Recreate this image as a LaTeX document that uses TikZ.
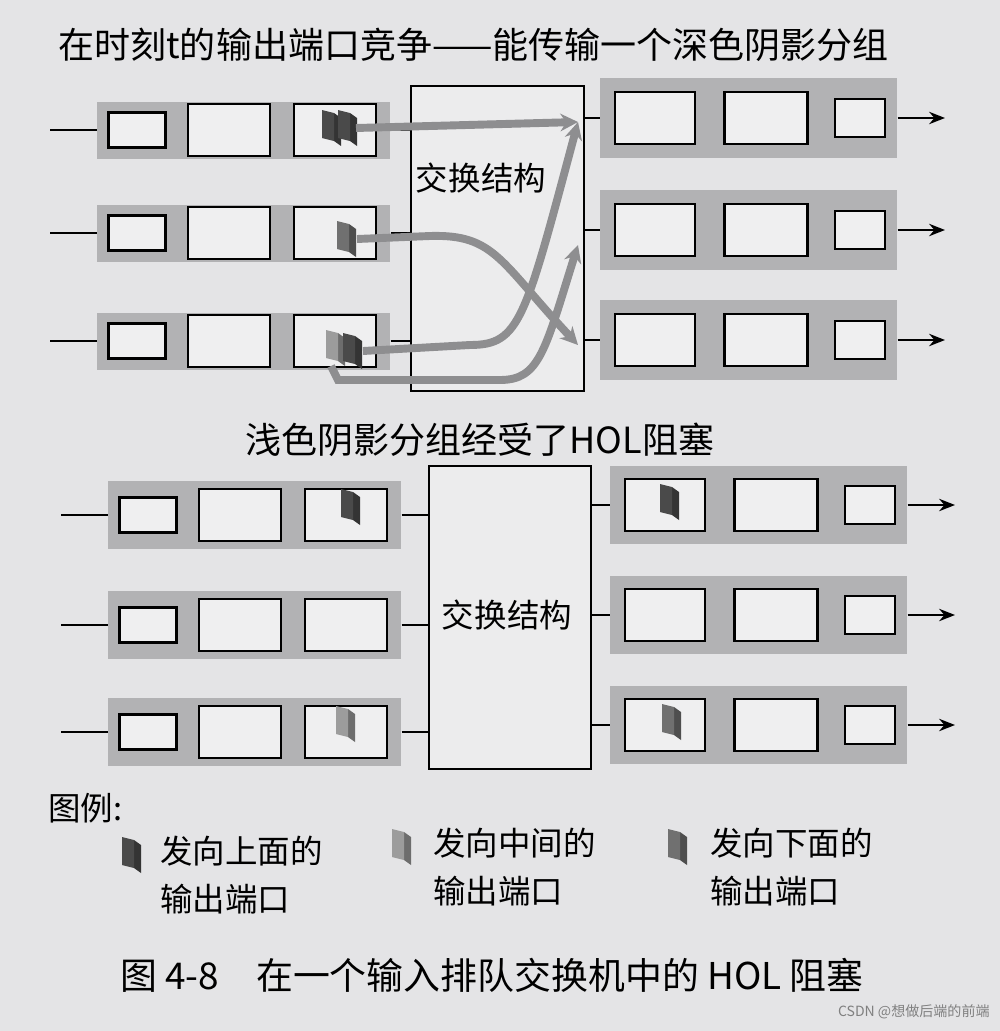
\documentclass[tikz,border=0pt]{standalone}
\usepackage{fontspec}
\newfontfamily\cjk{Noto Sans CJK SC}
\usetikzlibrary{arrows.meta}
\definecolor{paper}{HTML}{E4E4E6}
\definecolor{band}{HTML}{B2B2B4}
\definecolor{pdark}{HTML}{4A4A4A}
\definecolor{pmid}{HTML}{707070}
\definecolor{plight}{HTML}{9C9C9C}
\definecolor{flow}{HTML}{8E8E90}
\tikzset{
  bandbox/.style={fill=band,draw=none,minimum width=#1*0.02cm,inner sep=0pt},
  qbox/.style={draw=black,line width=1.2pt,fill=paper!60!white,inner sep=0pt},
  swbox/.style={draw=black,line width=1pt,fill=paper!70!white,inner sep=0pt},
  wire/.style={line width=1.3pt,black},
  outarrow/.style={line width=1.3pt,black,-{Stealth[length=9pt,width=7pt]}},
  flowline/.style={line width=4.5pt,flow,-{Stealth[length=10pt,width=10pt]}},
  lbl/.style={font=\cjk\fontsize{18.5pt}{22pt}\selectfont,inner sep=0pt},
  leg/.style={lbl,anchor=north west,align=left,font=\cjk\fontsize{18.5pt}{27pt}\selectfont}
}
\newcommand\pkt[4]{% x y color name
  \fill[#3!70!black] (#1+12,#2) -- (#1+19,#2+5) -- (#1+19,#2+33) -- (#1+12,#2+28) -- cycle;
  \fill[#3] (#1,#2-3) -- (#1+12,#2) -- (#1+12,#2+28) -- (#1,#2+25) -- cycle;
  \coordinate (#4) at (#1+10,#2+15);}
\newcommand\inrow[4]{% name xleft ycenter height
  \node[bandbox=293,minimum height=#4*0.02cm,anchor=west] (#1) at (#2,#3) {};
  \node[qbox,minimum width=57*0.02cm,minimum height=35*0.02cm] (#1a) at (#2+40,#3) {};
  \node[qbox,minimum width=82*0.02cm,minimum height=52*0.02cm] (#1b) at (#2+132,#3) {};
  \node[qbox,minimum width=82*0.02cm,minimum height=52*0.02cm] (#1c) at (#2+238,#3) {};
  \coordinate (#1in) at (#2-47,#3);
  \draw[wire] (#1in) -- (#1.west);}
\newcommand\outrow[4]{% name xleft ycenter height
  \node[bandbox=297,minimum height=#4*0.02cm,anchor=west] (#1) at (#2,#3) {};
  \node[qbox,minimum width=80*0.02cm,minimum height=52*0.02cm] (#1a) at (#2+55,#3) {};
  \node[qbox,minimum width=83*0.02cm,minimum height=52*0.02cm] (#1b) at (#2+166,#3) {};
  \node[qbox,minimum width=50*0.02cm,minimum height=38*0.02cm] (#1c) at (#2+260,#3) {};
  \coordinate (#1out) at (#2+345,#3);
  \draw[outarrow] (#1.east) -- (#1out);}
\begin{document}
\begin{tikzpicture}[x=0.02cm,y=-0.02cm]
\fill[paper] (0,0) rectangle (1000,1031);
\useasboundingbox (0,0) rectangle (1000,1031);
% ---------- top
\node[lbl,anchor=west,font=\cjk\fontsize{20.5pt}{24pt}\selectfont] (t1) at (58,45) {在时刻\textit{t}的输出端口竞争——能传输一个深色阴影分组};
\node[swbox,minimum width=173*0.02cm,minimum height=305*0.02cm,anchor=north west] (sw1) at (410,85) {};
\node[lbl] (sw1t) at (481,178) {交换结构};
\inrow{ia}{97}{130}{57}
\inrow{ib}{97}{233}{57}
\inrow{ic}{97}{341}{57}
\outrow{oa}{600}{118}{80}
\outrow{ob}{600}{230}{80}
\outrow{oc}{600}{340}{80}
\foreach \r in {ia,ib,ic}{\draw[wire] (\r.east) -- (\r.east -| sw1.west);}
\foreach \r in {oa,ob,oc}{\draw[wire] (\r.west -| sw1.east) -- (\r.west);}
\pkt{322}{113}{pdark}{pa1}
\pkt{338}{113}{pdark}{pa2}
\pkt{337}{224}{pmid}{pb1}
\pkt{326}{333}{plight}{pc1}
\pkt{343}{336}{pdark}{pc2}
\coordinate (ea) at (578,122);
\coordinate (eb) at (578,245);
\coordinate (ec) at (578,345);
\draw[flowline] (pa2)++(8,0) -- (ea);
\draw[flowline] (pb1)++(10,0) -- (430,236) .. controls (495,234) and (500,262) .. (ec);
\draw[flowline] (pc2)++(10,0) -- (470,345) .. controls (520,345) and (525,320) .. (ea);
\draw[flowline] (pc1)++(-5,18) -- (338,380) -- (500,380) .. controls (540,380) and (545,350) .. (eb);
% ---------- bottom
\node[lbl,anchor=west,font=\cjk\fontsize{20.5pt}{24pt}\selectfont] (t2) at (245,440) {浅色阴影分组经受了HOL阻塞};
\node[swbox,minimum width=162*0.02cm,minimum height=303*0.02cm,anchor=north west] (sw2) at (428,465) {};
\node[lbl] (sw2t) at (507,615) {交换结构};
\inrow{ja}{108}{515}{68}
\inrow{jb}{108}{625}{68}
\inrow{jc}{108}{732}{68}
\outrow{pa}{610}{505}{78}
\outrow{pb}{610}{615}{78}
\outrow{pc}{610}{725}{78}
\foreach \r in {ja,jb,jc}{\draw[wire] (\r.east) -- (\r.east -| sw2.west);}
\foreach \r in {pa,pb,pc}{\draw[wire] (\r.west -| sw2.east) -- (\r.west);}
\pkt{341}{492}{pdark}{qa}
\pkt{336}{709}{plight}{qc}
\pkt{660}{487}{pdark}{qo1}
\pkt{662}{707}{pmid}{qo3}
% ---------- legend
\node[lbl,anchor=west] (lg) at (48,808) {图例:};
\pkt{122}{840}{pdark}{l1}
\pkt{392}{832}{plight}{l2}
\pkt{668}{832}{pmid}{l3}
\node[leg] (l1t) at (160,836) {发向上面的\\输出端口};
\node[leg] (l2t) at (433,828) {发向中间的\\输出端口};
\node[leg] (l3t) at (710,828) {发向下面的\\输出端口};
\node[lbl,anchor=west,font=\cjk\fontsize{21pt}{24pt}\selectfont] (cap) at (120,975) {图 4-8\quad 在一个输入排队交换机中的 HOL 阻塞};
\node[anchor=east,font=\cjk\fontsize{8pt}{10pt}\selectfont,text=gray,inner sep=0pt] (wm) at (990,1012) {CSDN @想做后端的前端};
\end{tikzpicture}
\end{document}
